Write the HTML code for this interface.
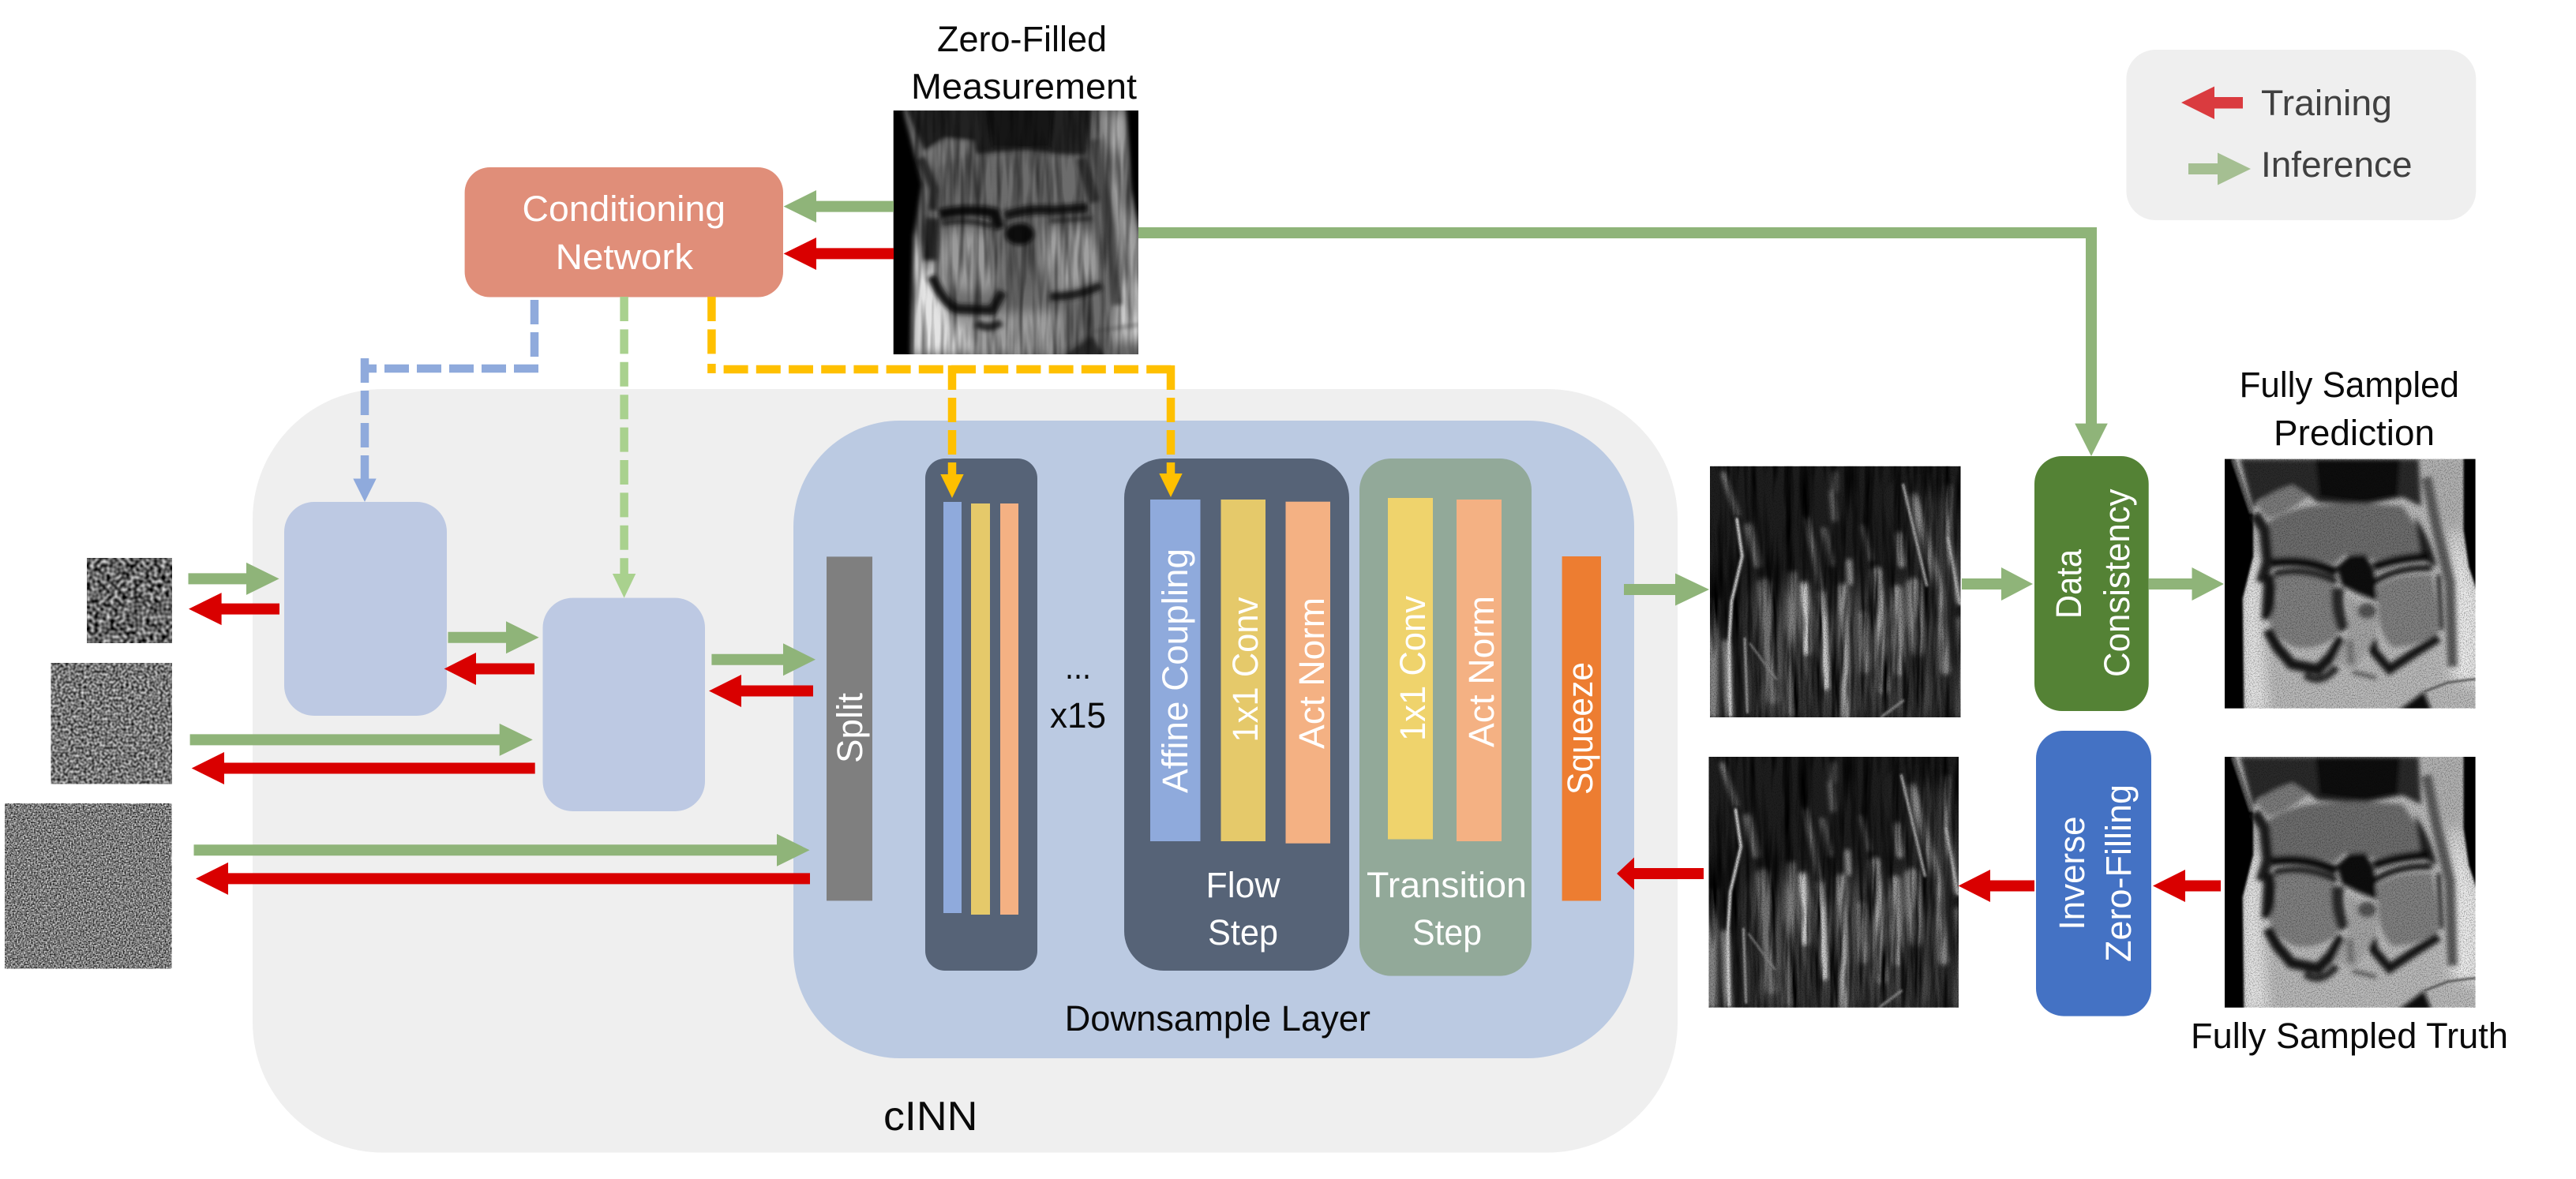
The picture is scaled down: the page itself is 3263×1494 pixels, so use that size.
<!DOCTYPE html>
<html>
<head>
<meta charset="utf-8">
<title>cINN diagram</title>
<style>
html,body{margin:0;padding:0;background:#fff}
svg{display:block}
text{font-family:"Liberation Sans",sans-serif;font-size:45px}
.w{fill:#fff}
.k{fill:#0a0a0a}
.g{fill:#8fb479}
.r{fill:#d90000}
</style>
</head>
<body>
<svg xmlns="http://www.w3.org/2000/svg" width="3263" height="1494" viewBox="0 0 3263 1494">
<defs>
<filter id="nS" x="0" y="0" width="100%" height="100%" color-interpolation-filters="sRGB">
<feTurbulence type="fractalNoise" baseFrequency="0.2" numOctaves="1" seed="3"/>
<feColorMatrix type="matrix" values="1.5 0 0 0 -0.36  1.5 0 0 0 -0.36  1.5 0 0 0 -0.36  0 0 0 0 1"/>
</filter>
<filter id="nM" x="0" y="0" width="100%" height="100%" color-interpolation-filters="sRGB">
<feTurbulence type="fractalNoise" baseFrequency="0.3" numOctaves="1" seed="8"/>
<feColorMatrix type="matrix" values="1.25 0 0 0 -0.16  1.25 0 0 0 -0.16  1.25 0 0 0 -0.16  0 0 0 0 1"/>
</filter>
<filter id="nL" x="0" y="0" width="100%" height="100%" color-interpolation-filters="sRGB">
<feTurbulence type="fractalNoise" baseFrequency="0.55" numOctaves="1" seed="12"/>
<feColorMatrix type="matrix" values="1.5 0 0 0 -0.27  1.5 0 0 0 -0.27  1.5 0 0 0 -0.27  0 0 0 0 1"/>
</filter>
<filter id="bSoft" x="-10%" y="-10%" width="120%" height="120%"><feGaussianBlur stdDeviation="22"/></filter>
<filter id="bMid" x="-10%" y="-10%" width="120%" height="120%"><feGaussianBlur stdDeviation="9"/></filter>
<filter id="bFine" x="-10%" y="-10%" width="120%" height="120%"><feGaussianBlur stdDeviation="4"/></filter>
<filter id="bLow" x="-20%" y="-20%" width="140%" height="140%"><feGaussianBlur stdDeviation="45"/></filter>
<filter id="streak" x="0" y="0" width="100%" height="100%" color-interpolation-filters="sRGB">
<feTurbulence type="fractalNoise" baseFrequency="0.035 0.003" numOctaves="3" seed="5"/>
<feColorMatrix type="matrix" values="2.2 0 0 0 -0.35  2.2 0 0 0 -0.35  2.2 0 0 0 -0.35  0 0 0 0 1"/>
</filter>
<filter id="streakSoft" x="0" y="0" width="100%" height="100%" color-interpolation-filters="sRGB">
<feTurbulence type="fractalNoise" baseFrequency="0.04 0.004" numOctaves="2" seed="14"/>
<feColorMatrix type="matrix" values="1.1 0 0 0 0.3  1.1 0 0 0 0.3  1.1 0 0 0 0.3  0 0 0 0 1"/>
</filter>
<filter id="grain" x="0" y="0" width="100%" height="100%" color-interpolation-filters="sRGB">
<feTurbulence type="fractalNoise" baseFrequency="0.25" numOctaves="2" seed="9"/>
<feColorMatrix type="matrix" values="1.1 0 0 0 0.38  1.1 0 0 0 0.38  1.1 0 0 0 0.38  0 0 0 0 1"/>
</filter>
<clipPath id="cKnee"><rect x="27" y="30" width="948" height="948"/></clipPath>
<clipPath id="cZero"><rect x="95" y="120" width="932" height="928"/></clipPath>
<clipPath id="cRes"><rect x="28" y="30" width="950" height="948"/></clipPath>

<symbol id="knee" viewBox="27 30 948 948" preserveAspectRatio="none">
<g clip-path="url(#cKnee)">
<rect x="27" y="30" width="948" height="948" fill="#bdbdbd"/>
<g filter="url(#bSoft)">
<polygon points="120,400 90,600 95,990 190,990 170,660 170,400" fill="#e8e8e8"/>
<polygon points="890,250 990,560 990,900 880,860" fill="#efefef"/>
<polygon points="760,30 930,30 930,300 850,300" fill="#b4b4b4"/>
<polygon points="190,820 840,800 840,990 190,990" fill="#bcbcbc"/>
</g>
<g filter="url(#bFine)">
<path d="M15 15H60L135 240L135 400L95 560L100 990H15Z" fill="#000"/>
<path d="M930 15H990V560L950 440L930 300Z" fill="#000"/>
<path d="M60 30L130 235" fill="none" stroke="#666" stroke-width="14"/>
</g>
<g filter="url(#bMid)">
<path d="M85 30H760L770 210L700 175L550 205L380 195L340 165L280 130L150 190L135 225Z" fill="#2c2c2c"/>
<path d="M370 30H690L680 170L550 195L385 175Z" fill="#0f0f0f"/>
<path d="M145 200Q210 150 285 130L345 170Q260 240 190 255Z" fill="#7d7d7d"/>
<path d="M190 270Q260 225 350 210Q520 190 700 210L750 285L770 385Q680 395 600 415L480 395L440 430Q330 395 200 410Z" fill="#6e6e6e"/>
<path d="M745 250Q800 320 830 440L770 410Z" fill="#242424"/>
<path d="M140 240L178 300L190 420L165 500" fill="none" stroke="#1f1f1f" stroke-width="42"/>
<path d="M200 470L190 640" fill="none" stroke="#141414" stroke-width="48"/>
<path d="M205 425Q340 405 450 462" fill="none" stroke="#0c0c0c" stroke-width="36"/>
<path d="M215 468Q330 440 450 498" fill="none" stroke="#141414" stroke-width="24"/>
<path d="M590 440Q680 405 800 400" fill="none" stroke="#101010" stroke-width="34"/>
<path d="M590 500Q680 440 810 445" fill="none" stroke="#141414" stroke-width="24"/>
<path d="M450 440L500 395L560 392L590 450L605 570L530 540L470 510Z" fill="#111"/>
<path d="M215 480Q350 455 440 510L435 590Q480 660 440 710Q370 760 290 745Q210 710 195 640Q225 590 225 540Z" fill="#828282"/>
<path d="M600 515Q680 465 810 470Q830 560 835 690Q760 745 660 745Q610 690 610 620Z" fill="#828282"/>
<path d="M190 680L225 745L280 810L380 830L430 780L470 710" fill="none" stroke="#121212" stroke-width="40"/>
<path d="M835 710L740 770L650 830L590 760L580 700" fill="none" stroke="#181818" stroke-width="34"/>
<path d="M835 470L846 680" fill="none" stroke="#1c1c1c" stroke-width="16"/>
<path d="M455 520Q445 600 480 680" fill="none" stroke="#2a2a2a" stroke-width="46"/>
<path d="M490 550L610 630L600 700L520 830L440 800L495 690Z" fill="#a8a8a8"/>
<ellipse cx="565" cy="608" rx="36" ry="30" fill="#555"/>
<path d="M500 720L505 810" fill="none" stroke="#777" stroke-width="26"/>
<path d="M330 850Q390 895 450 820" fill="none" stroke="#2a2a2a" stroke-width="28"/>
<path d="M510 840L600 862" fill="none" stroke="#444" stroke-width="12"/>
<path d="M790 100L830 300L878 500L888 820" fill="none" stroke="#5c5c5c" stroke-width="38"/>
<path d="M680 990L780 915L810 990Z" fill="#111"/>
</g>
<path d="M780 915L870 880L985 865" fill="none" stroke="#555" stroke-width="8" filter="url(#bFine)"/>
<rect x="27" y="30" width="948" height="948" filter="url(#grain)" style="mix-blend-mode:multiply"/>
</g>
</symbol>

<symbol id="zero" viewBox="95 120 932 928" preserveAspectRatio="none">
<g clip-path="url(#cZero)">
<rect x="95" y="120" width="932" height="928" fill="#6c6c6c"/>
<g filter="url(#bSoft)">
<path d="M165 560L235 700L300 880L420 1048H165Z" fill="#e4e4e4"/>
<path d="M300 900L740 880L740 1060L420 1060Z" fill="#9c9c9c"/>
<path d="M890 130H985V480L1030 600V930L960 860L940 560Z" fill="#a8a8a8"/>
<path d="M960 780L1040 780V1000H940Z" fill="#dcdcdc"/>
<path d="M280 570L480 590L500 770L430 820L300 790L250 700Z" fill="#9a9a9a"/>
<path d="M670 570L870 570L885 760L700 820L660 700Z" fill="#a0a0a0"/>
<path d="M500 620L650 620L660 800L530 800Z" fill="#626262"/>
<path d="M250 365L400 310L750 310L810 400L800 470L500 480L270 480Z" fill="#6c6c6c"/>
</g>
<g filter="url(#bMid)">
<path d="M80 110H130L205 400L172 600L160 1060H80Z" fill="#060606"/>
<path d="M980 110H1040V620L1000 420Z" fill="#060606"/>
<path d="M140 110H850L830 290L720 285L600 270L410 285L390 235L290 225L215 275Z" fill="#242424"/>
<path d="M450 110H700L690 260L470 260Z" fill="#141414"/>
<path d="M215 280L290 230L400 240L395 280L250 340Z" fill="#767676"/>
<path d="M200 300L250 420L245 500" fill="none" stroke="#2c2c2c" stroke-width="36"/>
<path d="M810 300L860 470" fill="none" stroke="#333" stroke-width="44"/>
<path d="M270 515Q380 490 480 510L500 570" fill="none" stroke="#111" stroke-width="40"/>
<path d="M280 550Q380 530 470 560" fill="none" stroke="#1c1c1c" stroke-width="16"/>
<path d="M520 520Q620 490 700 500L835 490" fill="none" stroke="#161616" stroke-width="36"/>
<path d="M690 540L850 530" fill="none" stroke="#262626" stroke-width="14"/>
<ellipse cx="575" cy="590" rx="55" ry="42" fill="#0e0e0e"/>
<path d="M245 530L235 690" fill="none" stroke="#262626" stroke-width="52"/>
<path d="M240 750Q290 860 340 875L470 880L510 810" fill="none" stroke="#161616" stroke-width="36"/>
<path d="M690 828Q800 830 885 785" fill="none" stroke="#1a1a1a" stroke-width="30"/>
<path d="M410 930Q460 960 505 925" fill="none" stroke="#262626" stroke-width="30"/>
<path d="M860 230L915 560L945 860" fill="none" stroke="#484848" stroke-width="42"/>
<path d="M735 1060L850 975L900 1060Z" fill="#262626"/>
<path d="M740 1040L860 960L1030 935" fill="none" stroke="#444" stroke-width="6"/>
</g>
<rect x="95" y="120" width="932" height="928" filter="url(#streakSoft)" style="mix-blend-mode:multiply"/>
</g>
</symbol>

<symbol id="res" viewBox="28 30 950 948" preserveAspectRatio="none">
<g clip-path="url(#cRes)">
<rect x="28" y="30" width="950" height="948" fill="#1e1e1e"/>
<g filter="url(#bLow)">
<path d="M180 500H860L930 990H170Z" fill="#4c4c4c"/>
<path d="M740 130L960 130L980 500L860 500Z" fill="#3c3c3c"/>
</g>
<g filter="url(#bMid)">
<rect x="20" y="530" width="40" height="450" fill="#8a8a8a"/>
<rect x="962" y="600" width="24" height="380" fill="#666"/>
</g>
<g fill="none" stroke-linecap="round" filter="url(#bMid)">
<path d="M235 480L270 900" stroke="#777" stroke-width="55"/>
<path d="M340 440L335 960" stroke="#888" stroke-width="30"/>
<path d="M385 480L395 730" stroke="#e0e0e0" stroke-width="28"/>
<path d="M450 510L470 860" stroke="#d8d8d8" stroke-width="30"/>
<path d="M530 490L545 970" stroke="#b0b0b0" stroke-width="34"/>
<path d="M610 590L615 800" stroke="#a8a8a8" stroke-width="28"/>
<path d="M660 430L685 870" stroke="#b4b4b4" stroke-width="40"/>
<path d="M735 500L745 800" stroke="#949494" stroke-width="42"/>
<path d="M800 480L815 720" stroke="#8c8c8c" stroke-width="56"/>
<path d="M800 150L900 500L920 800" stroke="#909090" stroke-width="36"/>
<path d="M395 230L450 500" stroke="#8c8c8c" stroke-width="18"/>
<path d="M490 130L500 230" stroke="#6e6e6e" stroke-width="20"/>
<path d="M460 270L490 400" stroke="#808080" stroke-width="18"/>
<path d="M610 260L640 380" stroke="#6a6a6a" stroke-width="18"/>
<path d="M745 290L755 400" stroke="#a0a0a0" stroke-width="26"/>
<path d="M555 390L560 470" stroke="#a8a8a8" stroke-width="20"/>
<path d="M80 60L130 210" stroke="#888" stroke-width="20"/>
<path d="M175 260L210 400" stroke="#777" stroke-width="30"/>
<path d="M90 700L100 970" stroke="#909090" stroke-width="32"/>
<path d="M930 110V300L970 540" stroke="#909090" stroke-width="22"/>
<path d="M500 60V120" stroke="#5a5a5a" stroke-width="24"/>
</g>
<rect x="28" y="30" width="950" height="948" filter="url(#streak)" style="mix-blend-mode:multiply"/>
<g fill="none" stroke-linecap="round" filter="url(#bFine)">
<path d="M130 230L150 370L110 540L100 700L105 970" stroke="#e0e0e0" stroke-width="11"/>
<path d="M160 680L170 960" stroke="#c0c0c0" stroke-width="7"/>
<path d="M760 100L850 480" stroke="#bbb" stroke-width="9"/>
<path d="M930 300L975 550" stroke="#bbb" stroke-width="8"/>
<path d="M180 700L280 835" stroke="#888" stroke-width="7"/>
<path d="M680 975L760 915" stroke="#888" stroke-width="10"/>
</g>
<rect x="28" y="30" width="950" height="948" filter="url(#grain)" style="mix-blend-mode:multiply"/>
</g>
</symbol>
</defs>

<!-- containers -->
<rect x="320" y="493" width="1805" height="967.5" rx="165" ry="165" fill="#efefef"/>
<rect x="1005" y="533" width="1065" height="808" rx="135" ry="135" fill="#bbcae2"/>
<rect x="360" y="636" width="206" height="271" rx="38" ry="38" fill="#bdc9e3"/>
<rect x="687.5" y="757.6" width="205.5" height="270.4" rx="38" ry="38" fill="#bdc9e3"/>
<rect x="588.6" y="212" width="403.4" height="164.5" rx="32" ry="32" fill="#e08e79"/>
<rect x="2693.4" y="63" width="442.9" height="216" rx="37" ry="37" fill="#efefef"/>

<!-- downsample contents -->
<rect x="1047" y="705.4" width="58" height="436" fill="#7f7f7f"/>
<rect x="1172" y="581" width="142" height="649" rx="25" ry="25" fill="#566377"/>
<rect x="1195" y="636" width="23" height="521" fill="#8faadc"/>
<rect x="1230" y="638" width="24" height="521" fill="#e5c96a"/>
<rect x="1267" y="638" width="23" height="521" fill="#f4b183"/>
<rect x="1424" y="581" width="285" height="649" rx="50" ry="50" fill="#566377"/>
<rect x="1457" y="633" width="63.5" height="433" fill="#8faadc"/>
<rect x="1546.5" y="633" width="56.5" height="433" fill="#e5c96a"/>
<rect x="1628.5" y="635.7" width="56.5" height="433" fill="#f4b183"/>
<rect x="1722" y="581" width="218" height="655.6" rx="40" ry="40" fill="#92a999"/>
<rect x="1758" y="631" width="57" height="432.5" fill="#efd36c"/>
<rect x="1845" y="633" width="57" height="433" fill="#f4b183"/>
<rect x="1978.6" y="705" width="49.4" height="436.5" fill="#ed7d31"/>

<!-- side blocks -->
<rect x="2577" y="578" width="144.7" height="323" rx="35" ry="35" fill="#548235"/>
<rect x="2579" y="926" width="146" height="361.6" rx="35" ry="35" fill="#4472c4"/>

<!-- noise images -->
<rect x="110" y="707" width="108" height="108" filter="url(#nS)"/>
<rect x="64.5" y="840" width="153.5" height="153.4" filter="url(#nM)"/>
<rect x="6" y="1018" width="211.5" height="209.5" filter="url(#nL)"/>

<!-- MRI images -->
<use href="#zero" x="1131.7" y="140" width="310.3" height="309"/>
<use href="#res" x="2166" y="590.7" width="317.5" height="318.3"/>
<use href="#res" x="2164.5" y="959" width="316.5" height="317.7"/>
<use href="#knee" x="2818" y="581.6" width="317.6" height="316"/>
<use href="#knee" x="2818" y="959" width="317.6" height="317.7"/>

<!-- dashed connectors -->
<g fill="none" stroke-width="10.5">
<g stroke="#8faadc">
<path d="M677 380V452" stroke-dasharray="31 10"/>
<path d="M682 467H457" stroke-dasharray="31 10"/>
<path d="M462 454V608" stroke-dasharray="31 10"/>
</g>
<path d="M790.6 376V730" stroke="#a9d18e" stroke-dasharray="31 10.4"/>
<g stroke="#ffc000">
<path d="M901.4 376V449" stroke-dasharray="31 10.4"/>
<path d="M901.4 461V473"/>
<path d="M916.6 468H1488" stroke-dasharray="31 10.2"/>
<path d="M1206 463V603" stroke-dasharray="31 10"/>
<path d="M1483 463V603" stroke-dasharray="31 10"/>
</g>
</g>
<polygon points="447.3,606.5 476.7,606.5 462,636" fill="#8faadc"/>
<polygon points="775.9,727 805.3,727 790.6,757.6" fill="#a9d18e"/>
<polygon points="1191.3,601 1220.7,601 1206,631" fill="#ffc000"/>
<polygon points="1468.3,600 1497.7,600 1483,630" fill="#ffc000"/>

<!-- green arrows -->
<g class="g">
<path d="M1132 254.6H1034V241L992.6 261.6L1034 282V268.6H1132Z"/>
<path d="M238.5 726.4H312V712.9L353.6 733.4L312 753.9V740.4H238.5Z"/>
<path d="M567.5 800.7H641V787.2L682.6 807.7L641 828.2V814.7H567.5Z"/>
<path d="M901.4 828.7H992V815.2L1033 835.7L992 856.2V842.7H901.4Z"/>
<path d="M240.6 930.4H632.7V916.9L674.8 937.4L632.7 957.9V944.4H240.6Z"/>
<path d="M245.5 1070.3H984V1056.8L1025.6 1077.3L984 1097.8V1084.3H245.5Z"/>
<path d="M2057 740H2122V726.5L2165 747L2122 767.5V754H2057Z"/>
<path d="M2485 733H2535V719L2575 740L2535 761V747H2485Z"/>
<path d="M2721.7 733H2776.5V719L2817 740L2776.5 761V747H2721.7Z"/>
<path d="M1442 288H2656V536.6H2669.8L2649 578L2628.2 536.6H2642V302H1442Z"/>
</g>

<!-- red arrows -->
<g class="r">
<path d="M1132 314.4H1034V301L992.6 321.4L1034 342V328.4H1132Z"/>
<path d="M354 764.6H280.6V751.1L239 771.6L280.6 792.1V778.6H354Z"/>
<path d="M677 840.5H603V827L562.6 847.5L603 868V854.5H677Z"/>
<path d="M1030 868.5H939V855L898 875.5L939 896V882.5H1030Z"/>
<path d="M677.7 966.5H284V953L242.7 973.5L284 994V980.5H677.7Z"/>
<path d="M1026 1106.4H289V1092.9L248 1113.4L289 1133.9V1120.4H1026Z"/>
<path d="M2158 1100H2070V1086.5L2048 1107L2070 1127.5V1114H2158Z"/>
<path d="M2577 1115.5H2521V1102L2480.6 1122.5L2521 1143V1129.5H2577Z"/>
<path d="M2813 1115.5H2768V1102L2727 1122.5L2768 1143V1129.5H2813Z"/>
</g>

<!-- legend arrows -->
<path d="M2841 123H2805V109.5L2763 130L2805 151V137.5H2841Z" fill="#da3b3f"/>
<path d="M2772 207H2809V193.5L2851 214L2809 234.5V221H2772Z" fill="#a5bf92"/>

<!-- labels -->
<text class="k" x="1187" y="65" textLength="215" lengthAdjust="spacingAndGlyphs">Zero-Filled</text>
<text class="k" x="1154" y="125" textLength="286" lengthAdjust="spacingAndGlyphs">Measurement</text>
<text class="w" x="661.5" y="280" textLength="257.5" lengthAdjust="spacingAndGlyphs">Conditioning</text>
<text class="w" x="703.6" y="341" textLength="174.4" lengthAdjust="spacingAndGlyphs">Network</text>
<text x="2864" y="146" textLength="166" lengthAdjust="spacingAndGlyphs" fill="#404040">Training</text>
<text x="2864" y="224" textLength="191.5" lengthAdjust="spacingAndGlyphs" fill="#404040">Inference</text>
<text class="k" x="2836.6" y="503" textLength="278.4" lengthAdjust="spacingAndGlyphs">Fully Sampled</text>
<text class="k" x="2880" y="564" textLength="204" lengthAdjust="spacingAndGlyphs">Prediction</text>
<text class="k" x="2775" y="1328" textLength="402" lengthAdjust="spacingAndGlyphs">Fully Sampled Truth</text>
<text class="k" x="1349" y="860" textLength="33" lengthAdjust="spacingAndGlyphs">...</text>
<text class="k" x="1330" y="922" textLength="71" lengthAdjust="spacingAndGlyphs">x15</text>
<text class="w" x="1527.5" y="1137" textLength="94" lengthAdjust="spacingAndGlyphs">Flow</text>
<text class="w" x="1530" y="1197" textLength="89" lengthAdjust="spacingAndGlyphs">Step</text>
<text class="w" x="1731" y="1137" textLength="203" lengthAdjust="spacingAndGlyphs">Transition</text>
<text class="w" x="1789" y="1197" textLength="88" lengthAdjust="spacingAndGlyphs">Step</text>
<text class="k" x="1348.6" y="1306" textLength="387.4" lengthAdjust="spacingAndGlyphs">Downsample Layer</text>
<text class="k" x="1119" y="1432" textLength="119.5" lengthAdjust="spacingAndGlyphs" style="font-size:52px">cINN</text>

<!-- rotated labels -->
<text class="w" transform="translate(1092 967) rotate(-90)" textLength="89" lengthAdjust="spacingAndGlyphs">Split</text>
<text class="w" transform="translate(1504 1005) rotate(-90)" textLength="310" lengthAdjust="spacingAndGlyphs">Affine Coupling</text>
<text class="w" transform="translate(1593 940.6) rotate(-90)" textLength="184" lengthAdjust="spacingAndGlyphs">1x1 Conv</text>
<text class="w" transform="translate(1677 949) rotate(-90)" textLength="192" lengthAdjust="spacingAndGlyphs">Act Norm</text>
<text class="w" transform="translate(1805 939) rotate(-90)" textLength="184" lengthAdjust="spacingAndGlyphs">1x1 Conv</text>
<text class="w" transform="translate(1892 947) rotate(-90)" textLength="192" lengthAdjust="spacingAndGlyphs">Act Norm</text>
<text class="w" transform="translate(2017 1007) rotate(-90)" textLength="168" lengthAdjust="spacingAndGlyphs">Squeeze</text>
<text class="w" transform="translate(2636 784) rotate(-90)" textLength="88" lengthAdjust="spacingAndGlyphs">Data</text>
<text class="w" transform="translate(2697 858) rotate(-90)" textLength="238.5" lengthAdjust="spacingAndGlyphs">Consistency</text>
<text class="w" transform="translate(2640 1178.5) rotate(-90)" textLength="144" lengthAdjust="spacingAndGlyphs">Inverse</text>
<text class="w" transform="translate(2699 1219) rotate(-90)" textLength="225" lengthAdjust="spacingAndGlyphs">Zero-Filling</text>
</svg>
</body>
</html>
